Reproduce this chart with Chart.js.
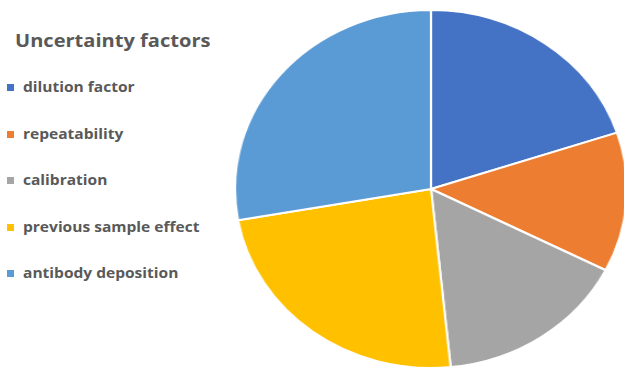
<!DOCTYPE html>
<html>
<head>
<meta charset="utf-8">
<script src="https://cdn.jsdelivr.net/npm/chart.js@4"></script>
<style>
  html, body { margin: 0; padding: 0; background: #fff; }
  body { width: 624px; height: 367px; overflow: hidden; position: relative; font-family: "Open Sans", sans-serif; }
  #legend { position: absolute; left: 0; top: 0; color: #595959; font-weight: bold; }
  #legend .title { position: absolute; left: 15px; top: 29px; font-size: 17px; white-space: nowrap; transform: scaleX(1.18); transform-origin: 0 0; }
  #legend .item { position: absolute; left: 7px; font-size: 13.5px; white-space: nowrap; line-height: 20px; }
  #legend .item i { display: inline-block; width: 7px; height: 7px; margin-right: 9px; vertical-align: 1px; }
  #legend .item span { display: inline-block; transform: scaleX(1.15); transform-origin: 0 0; }
  #pieBox { position: absolute; left: 251px; top: 9px; width: 360px; height: 360px; transform: scaleX(1.095); transform-origin: 180px 180px; }
</style>
</head>
<body>
<div id="legend"></div>
<div id="pieBox"><canvas id="pieChart"></canvas></div>
<script>
const legendTitle = "Uncertainty factors";

const factors = [
  "dilution factor",
  "repeatability",
  "calibration",
  "previous sample effect",
  "antibody deposition"
];

// share of each factor
const shares = [19.9, 12.6, 15.9, 23.8, 27.8];

const colors = ["#4472C4", "#ED7D31", "#A5A5A5", "#FFC000", "#5B9BD5"];

// LEGEND
const legend = document.getElementById("legend");

const title = document.createElement("div");
title.className = "title";
title.textContent = legendTitle;
legend.appendChild(title);

factors.forEach((name, i) => {
  const item = document.createElement("div");
  item.className = "item";
  item.style.top = (77 + i * 46.5) + "px";
  item.innerHTML = '<i style="background:' + colors[i] + '"></i>';
  const label = document.createElement("span");
  label.textContent = name;
  item.appendChild(label);
  legend.appendChild(item);
});

// PIE
new Chart(document.getElementById("pieChart"), {
  type: "pie",
  data: {
    labels: factors,
    datasets: [{
      data: shares,
      backgroundColor: colors,
      borderColor: "#ffffff",
      borderWidth: 2
    }]
  },
  options: {
    responsive: true,
    maintainAspectRatio: false,
    animation: false,
    layout: { padding: 0 },
    plugins: {
      legend: { display: false },
      tooltip: { enabled: false }
    }
  }
});
</script>
</body>
</html>
